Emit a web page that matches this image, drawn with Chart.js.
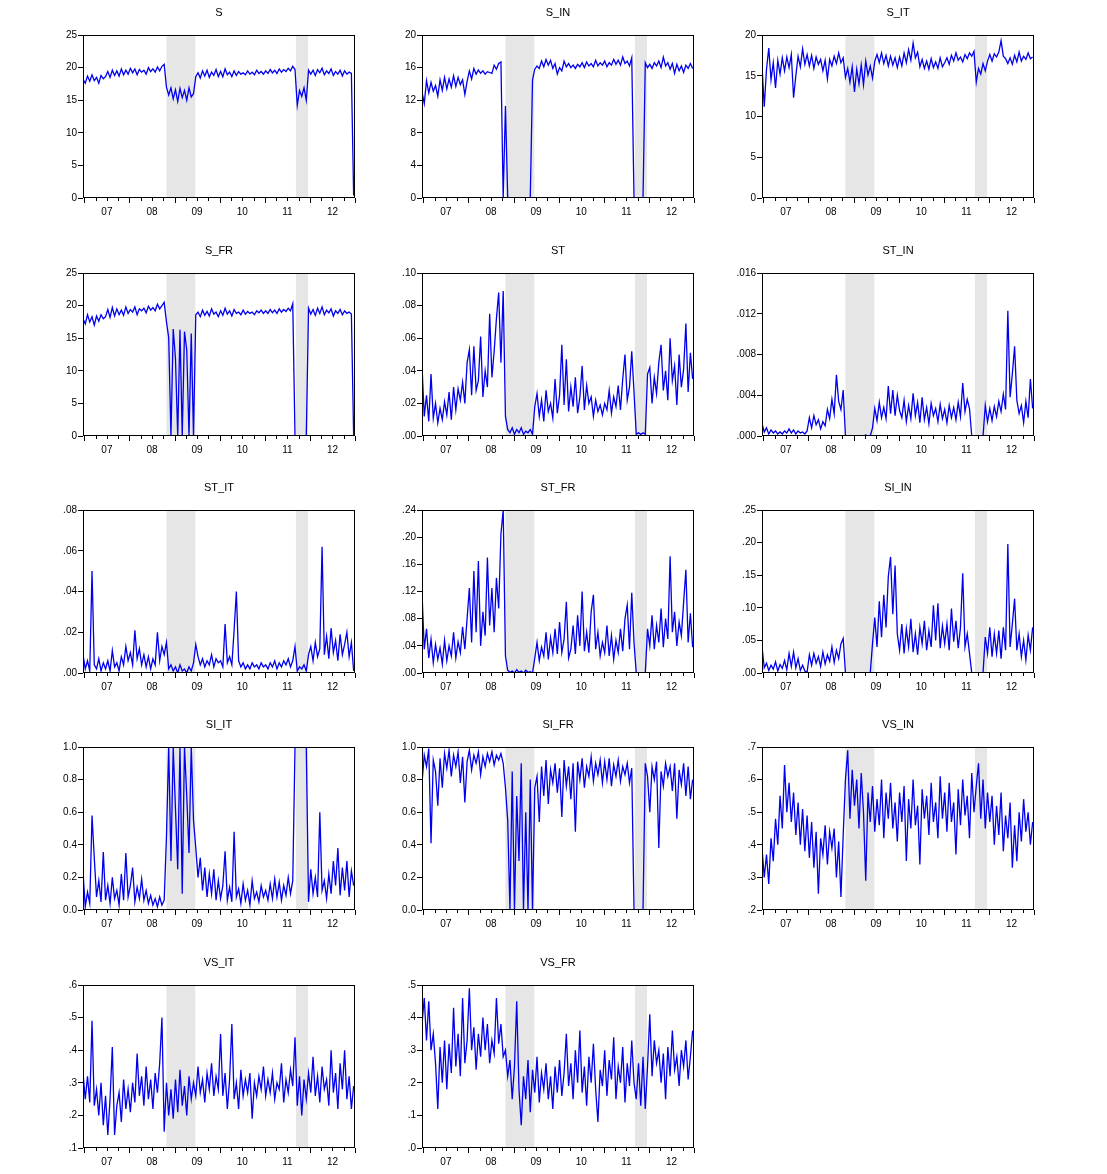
<!DOCTYPE html>
<html>
<head>
<meta charset="utf-8">
<script src="https://cdn.jsdelivr.net/npm/chart.js@4.4.1/dist/chart.umd.min.js"></script>
<style>
body { margin: 0; background: #fff; width: 1107px; height: 1174px; overflow: hidden; position: relative; }
canvas { position: absolute; }
</style>
</head>
<body>
<script>
// one value every 0.05 year, first one in Dec 2006
const START = 2006.97, STEP = 0.05, N = 121;
const dates = Array.from({length: N}, (_, i) => +(START + i * STEP).toFixed(2));
const yearLabels = ['07', '08', '09', '10', '11', '12'];
const recessions = [[2008.82, 2009.46], [2011.69, 2011.96]];

// each series: first point, then one line per year 2007..2012
const S = [18.2,
  17.6, 18.7, 17.9, 18.9, 18.0, 18.5, 17.6, 18.8, 18.3, 18.6, 19.4, 18.5, 19.6, 18.8, 19.5, 18.7, 19.8, 18.9, 19.6, 19.0,
  19.9, 19.2, 19.8, 18.9, 19.7, 19.3, 19.6, 19.0, 20.0, 19.4, 19.8, 19.3, 20.1, 19.5, 20.2, 20.5, 17.0, 15.8, 16.9, 15.2,
  16.6, 14.8, 16.8, 15.4, 16.5, 15.0, 16.9, 15.5, 16.0, 18.6, 19.2, 18.4, 19.5, 18.7, 19.6, 18.5, 19.3, 18.8, 19.7, 18.6,
  19.4, 18.6, 19.8, 18.9, 19.3, 18.6, 19.5, 18.8, 19.4, 19.0, 19.2, 18.9, 19.5, 19.0, 19.3, 18.9, 19.6, 19.1, 19.4, 19.0,
  19.5, 19.1, 19.7, 19.2, 19.6, 19.1, 19.8, 19.3, 19.7, 19.4, 19.9, 19.5, 20.2, 19.7, 14.2, 16.5, 15.6, 16.9, 15.0, 19.6,
  19.0, 19.6, 18.8, 19.7, 19.2, 19.9, 18.9, 19.5, 19.1, 19.8, 18.8, 19.4, 19.0, 19.6, 18.7, 19.5, 19.0, 19.3, 19.1, 0.4];

const S_IN = [13.0,
  11.6, 14.4, 12.9, 14.2, 13.1, 13.8, 12.5, 14.5, 13.2, 14.8, 13.4, 14.6, 13.6, 15.0, 13.7, 14.8, 13.9, 14.5, 12.7, 14.3,
  15.6, 14.6, 15.9, 15.2, 15.7, 15.3, 15.6, 15.2, 15.5, 15.4, 15.3, 16.3, 15.8, 16.5, 16.7, 0, 11.3, 0, 0, 0,
  0, 0, 0, 0, 0, 0, 0, 0, 14.5, 15.8, 16.2, 15.9, 16.8, 16.1, 17.0, 16.3, 16.9, 15.9, 16.5, 15.2,
  16.0, 15.6, 16.8, 16.1, 16.5, 16.0, 16.3, 15.9, 16.4, 16.1, 16.6, 16.0, 16.7, 16.2, 16.5, 16.1, 16.9, 16.2, 16.6, 16.3,
  16.8, 16.1, 16.6, 16.3, 17.0, 16.4, 16.9, 16.3, 17.3, 16.5, 16.8, 16.2, 17.2, 0, 0, 0, 0, 0, 16.6, 16.0,
  16.4, 15.9, 16.6, 16.2, 16.8, 16.0, 17.3, 16.2, 16.6, 15.8, 16.5, 15.3, 16.4, 15.6, 16.2, 15.4, 16.3, 15.9, 16.5, 15.9];

const S_IT = [16.2,
  11.2, 15.8, 18.4, 14.5, 16.6, 13.5, 16.9, 15.2, 17.2, 15.6, 17.3, 16.0, 17.6, 12.3, 15.0, 17.4, 16.1, 18.3, 16.4, 17.6,
  16.2, 17.5, 15.9, 17.3, 16.4, 17.0, 15.6, 16.9, 14.6, 17.0, 16.2, 17.4, 16.5, 17.8, 16.6, 17.2, 14.8, 15.9, 14.2, 16.1,
  13.0, 15.8, 14.0, 16.3, 13.9, 16.8, 15.1, 16.2, 14.7, 16.8, 17.6, 16.6, 17.8, 16.5, 17.5, 16.2, 17.4, 16.3, 17.2, 16.0,
  17.3, 16.2, 17.8, 16.6, 18.2, 16.9, 19.0, 17.2, 17.9, 16.1, 17.0, 15.9, 16.8, 15.8, 17.1, 16.0, 16.7, 15.9, 17.2, 16.1,
  16.6, 17.2, 16.4, 17.5, 16.8, 17.8, 16.9, 17.3, 16.7, 17.6, 17.1, 17.8, 17.4, 18.0, 14.2, 15.9, 15.2, 16.5, 15.6, 16.8,
  17.6, 16.8, 17.7, 17.3, 17.9, 19.3, 17.4, 17.1, 16.5, 17.2, 16.4, 17.5, 16.7, 17.9, 16.8, 17.4, 17.0, 17.8, 17.1, 17.3];

const S_FR = [18.0,
  17.2, 18.6, 17.5, 18.3, 17.0, 18.4, 17.6, 18.6, 18.0, 18.3, 19.4, 18.2, 19.7, 18.4, 19.5, 18.6, 19.3, 18.5, 19.8, 18.8,
  19.4, 19.0, 19.8, 18.6, 19.5, 19.2, 19.6, 18.9, 19.9, 19.3, 19.7, 19.2, 20.2, 19.5, 20.0, 20.5, 17.5, 15.1, 0, 16.4,
  11.9, 0, 16.3, 0, 16.0, 13.2, 0, 15.7, 0, 18.6, 19.0, 18.3, 19.3, 18.5, 19.1, 18.4, 19.5, 18.7, 19.0, 18.3,
  19.2, 18.5, 19.6, 18.7, 19.2, 18.4, 19.4, 18.8, 19.0, 18.6, 19.3, 18.7, 19.1, 18.8, 19.0, 18.6, 19.2, 18.9, 19.3, 18.8,
  19.2, 18.8, 19.4, 18.9, 19.3, 18.8, 19.5, 19.0, 19.4, 19.1, 19.6, 19.2, 20.3, 0, 0, 0, 0, 0, 0, 19.6,
  18.7, 19.4, 18.5, 19.6, 18.8, 19.8, 18.6, 19.3, 18.9, 19.5, 18.4, 19.2, 18.8, 19.4, 18.6, 19.2, 18.8, 19.0, 18.7, 0];

const ST = [0.043,
  0.012, 0.025, 0.009, 0.038, 0.011, 0.020, 0.008, 0.017, 0.010, 0.021, 0.013, 0.027, 0.010, 0.030, 0.016, 0.029, 0.022, 0.033, 0.020, 0.045,
  0.053, 0.025, 0.055, 0.028, 0.034, 0.061, 0.024, 0.040, 0.030, 0.075, 0.036, 0.052, 0.072, 0.088, 0.045, 0.089, 0.012, 0.004, 0.002, 0.005,
  0.001, 0.004, 0.002, 0.005, 0.001, 0.003, 0.002, 0.004, 0.001, 0.018, 0.026, 0.012, 0.022, 0.009, 0.028, 0.015, 0.020, 0.011, 0.035, 0.014,
  0.025, 0.056, 0.019, 0.047, 0.015, 0.030, 0.018, 0.036, 0.014, 0.024, 0.043, 0.016, 0.031, 0.020, 0.024, 0.012, 0.022, 0.015, 0.019, 0.013,
  0.020, 0.016, 0.028, 0.014, 0.024, 0.018, 0.031, 0.016, 0.035, 0.050, 0.022, 0.030, 0.052, 0.027, 0.001, 0.002, 0.001, 0.002, 0.001, 0.038,
  0.042, 0.020, 0.036, 0.026, 0.045, 0.056, 0.028, 0.040, 0.022, 0.060, 0.034, 0.043, 0.019, 0.050, 0.030, 0.041, 0.069, 0.027, 0.051, 0.035];

const ST_IN = [0.0012,
  0.0004, 0.0008, 0.0002, 0.0006, 0.0003, 0.0005, 0.0002, 0.0004, 0.0002, 0.0005, 0.0003, 0.0007, 0.0003, 0.0006, 0.0002, 0.0005, 0.0003, 0.0004, 0.0002, 0.0005,
  0.0018, 0.0008, 0.0020, 0.0011, 0.0016, 0.0007, 0.0014, 0.0010, 0.0026, 0.0017, 0.0036, 0.0022, 0.0060, 0.0034, 0.0026, 0.0045, 0, 0, 0, 0,
  0, 0, 0, 0, 0, 0.0001, 0, 0, 0.0008, 0.0027, 0.0015, 0.0033, 0.0018, 0.0028, 0.0017, 0.0049, 0.0022, 0.0045, 0.0020, 0.0040,
  0.0025, 0.0018, 0.0035, 0.0014, 0.0030, 0.0017, 0.0042, 0.0020, 0.0033, 0.0013, 0.0038, 0.0016, 0.0028, 0.0012, 0.0032, 0.0020, 0.0027, 0.0014, 0.0031, 0.0017,
  0.0026, 0.0013, 0.0030, 0.0018, 0.0028, 0.0016, 0.0033, 0.0019, 0.0052, 0.0024, 0.0036, 0.0027, 0, 0, 0, 0, 0, 0, 0.0030, 0.0014,
  0.0027, 0.0015, 0.0029, 0.0019, 0.0034, 0.0024, 0.0041, 0.0026, 0.0123, 0.0038, 0.0061, 0.0088, 0.0035, 0.0022, 0.0030, 0.0013, 0.0034, 0.0018, 0.0056, 0.0027];

const ST_IT = [0.009,
  0.002, 0.006, 0.001, 0.050, 0.004, 0.002, 0.007, 0.001, 0.005, 0.002, 0.006, 0.001, 0.011, 0.003, 0.005, 0.001, 0.008, 0.004, 0.013, 0.006,
  0.010, 0.004, 0.021, 0.007, 0.012, 0.004, 0.009, 0.003, 0.008, 0.002, 0.007, 0.004, 0.020, 0.006, 0.013, 0.009, 0.015, 0.002, 0.004, 0.001,
  0.003, 0.000, 0.004, 0.001, 0.002, 0.000, 0.003, 0.001, 0.005, 0.014, 0.008, 0.004, 0.007, 0.003, 0.006, 0.004, 0.009, 0.003, 0.007, 0.005,
  0.006, 0.003, 0.024, 0.005, 0.008, 0.004, 0.021, 0.040, 0.006, 0.003, 0.005, 0.002, 0.004, 0.002, 0.005, 0.003, 0.004, 0.002, 0.005, 0.003,
  0.004, 0.002, 0.005, 0.003, 0.006, 0.002, 0.005, 0.003, 0.006, 0.004, 0.007, 0.003, 0.006, 0.013, 0.001, 0.003, 0.002, 0.004, 0.001, 0.009,
  0.013, 0.006, 0.015, 0.008, 0.012, 0.062, 0.009, 0.018, 0.007, 0.022, 0.010, 0.016, 0.006, 0.019, 0.009, 0.014, 0.020, 0.008, 0.015, 0.001];

const ST_FR = [0.118,
  0.035, 0.065, 0.022, 0.050, 0.015, 0.042, 0.020, 0.037, 0.013, 0.048, 0.018, 0.040, 0.025, 0.060, 0.022, 0.046, 0.030, 0.068, 0.035, 0.080,
  0.125, 0.045, 0.150, 0.060, 0.165, 0.040, 0.090, 0.055, 0.170, 0.070, 0.125, 0.060, 0.140, 0.095, 0.205, 0.240, 0.025, 0.004, 0.001, 0.003,
  0.000, 0.005, 0.001, 0.003, 0.000, 0.004, 0.001, 0.002, 0.000, 0.022, 0.045, 0.018, 0.038, 0.025, 0.060, 0.020, 0.052, 0.030, 0.065, 0.028,
  0.075, 0.030, 0.050, 0.105, 0.022, 0.035, 0.070, 0.028, 0.085, 0.040, 0.120, 0.032, 0.060, 0.030, 0.090, 0.115, 0.035, 0.060, 0.025, 0.045,
  0.030, 0.070, 0.025, 0.055, 0.020, 0.048, 0.030, 0.065, 0.032, 0.080, 0.100, 0.035, 0.118, 0.045, 0, 0, 0, 0, 0, 0.065,
  0.040, 0.085, 0.035, 0.070, 0.045, 0.095, 0.038, 0.080, 0.050, 0.172, 0.060, 0.090, 0.040, 0.075, 0.055, 0.104, 0.152, 0.045, 0.088, 0.038];

const SI_IN = [0.040,
  0.008, 0.015, 0.004, 0.012, 0.006, 0.017, 0.003, 0.013, 0.007, 0.019, 0.005, 0.030, 0.010, 0.032, 0.008, 0.022, 0.004, 0.012, 0.003, 0.001,
  0.028, 0.012, 0.030, 0.015, 0.025, 0.010, 0.032, 0.014, 0.028, 0.018, 0.040, 0.016, 0.035, 0.022, 0.045, 0.053, 0, 0, 0, 0,
  0, 0, 0, 0, 0, 0, 0, 0, 0.045, 0.085, 0.040, 0.110, 0.055, 0.120, 0.070, 0.148, 0.178, 0.090, 0.165, 0.060,
  0.035, 0.075, 0.030, 0.068, 0.040, 0.083, 0.032, 0.060, 0.028, 0.070, 0.045, 0.080, 0.035, 0.065, 0.040, 0.104, 0.050, 0.107, 0.038, 0.072,
  0.045, 0.075, 0.035, 0.099, 0.048, 0.080, 0.038, 0.070, 0.153, 0.040, 0.060, 0.030, 0, 0, 0, 0, 0, 0, 0.055, 0.030,
  0.070, 0.025, 0.060, 0.030, 0.065, 0.022, 0.070, 0.035, 0.198, 0.040, 0.075, 0.114, 0.035, 0.060, 0.025, 0.050, 0.020, 0.058, 0.035, 0.070];

const SI_IT = [0.230,
  0.020, 0.110, 0.040, 0.580, 0.320, 0.080, 0.180, 0.050, 0.355, 0.060, 0.150, 0.040, 0.200, 0.070, 0.120, 0.030, 0.220, 0.060, 0.350, 0.080,
  0.150, 0.260, 0.050, 0.140, 0.070, 0.190, 0.060, 0.120, 0.040, 0.090, 0.030, 0.070, 0.020, 0.080, 0.030, 0.060, 0.450, 1.000, 0.300, 1.000,
  0.620, 0.250, 1.000, 0.100, 1.000, 0.700, 0.350, 1.000, 0.550, 0.380, 0.200, 0.320, 0.120, 0.260, 0.080, 0.220, 0.100, 0.250, 0.060, 0.180,
  0.070, 0.150, 0.360, 0.060, 0.140, 0.050, 0.480, 0.080, 0.130, 0.040, 0.160, 0.060, 0.120, 0.030, 0.180, 0.070, 0.110, 0.050, 0.150, 0.080,
  0.120, 0.060, 0.160, 0.070, 0.190, 0.080, 0.170, 0.060, 0.150, 0.090, 0.200, 0.100, 0.180, 1.000, 1.000, 1.000, 1.000, 1.000, 1.000, 0.050,
  0.250, 0.100, 0.200, 0.080, 0.600, 0.120, 0.180, 0.070, 0.220, 0.100, 0.300, 0.150, 0.380, 0.090, 0.260, 0.120, 0.300, 0.080, 0.240, 0.150];

const SI_FR = [0.780,
  0.950, 0.880, 0.990, 0.410, 0.920, 0.850, 0.640, 0.930, 0.750, 0.960, 0.870, 0.980, 0.820, 0.950, 0.880, 0.970, 0.780, 0.940, 0.660, 0.910,
  0.980, 0.860, 0.950, 0.900, 0.970, 0.830, 0.940, 0.880, 0.960, 0.910, 0.970, 0.890, 0.950, 0.920, 0.960, 0.900, 0.750, 0.550, 0.000, 0.850,
  0.000, 0.700, 0.300, 0.900, 0.000, 0.600, 0.000, 0.800, 0.000, 0.750, 0.820, 0.540, 0.880, 0.700, 0.920, 0.650, 0.860, 0.780, 0.900, 0.720,
  0.870, 0.570, 0.920, 0.760, 0.880, 0.680, 0.900, 0.480, 0.910, 0.800, 0.930, 0.750, 0.880, 0.820, 0.940, 0.790, 0.900, 0.830, 0.920, 0.780,
  0.910, 0.800, 0.930, 0.760, 0.890, 0.820, 0.920, 0.790, 0.880, 0.830, 0.900, 0.780, 0.870, 0, 0, 0, 0, 0, 0.900, 0.820,
  0.600, 0.880, 0.800, 0.910, 0.380, 0.850, 0.760, 0.900, 0.820, 0.880, 0.730, 0.900, 0.560, 0.860, 0.770, 0.900, 0.700, 0.880, 0.680, 0.800];

const VS_IN = [0.390,
  0.300, 0.370, 0.280, 0.420, 0.350, 0.480, 0.400, 0.550, 0.450, 0.645, 0.500, 0.590, 0.470, 0.560, 0.430, 0.530, 0.400, 0.510, 0.380, 0.490,
  0.360, 0.470, 0.330, 0.440, 0.250, 0.420, 0.370, 0.460, 0.340, 0.440, 0.390, 0.450, 0.300, 0.410, 0.240, 0.430, 0.600, 0.690, 0.480, 0.630,
  0.520, 0.600, 0.450, 0.620, 0.500, 0.290, 0.560, 0.470, 0.580, 0.440, 0.540, 0.460, 0.600, 0.420, 0.560, 0.480, 0.590, 0.450, 0.530, 0.410,
  0.560, 0.470, 0.580, 0.350, 0.540, 0.450, 0.600, 0.460, 0.520, 0.340, 0.570, 0.480, 0.550, 0.430, 0.590, 0.470, 0.530, 0.420, 0.610, 0.480,
  0.560, 0.440, 0.590, 0.470, 0.530, 0.370, 0.570, 0.460, 0.600, 0.490, 0.550, 0.420, 0.620, 0.500, 0.580, 0.650, 0.480, 0.600, 0.450, 0.560,
  0.470, 0.550, 0.400, 0.520, 0.430, 0.560, 0.380, 0.490, 0.420, 0.530, 0.330, 0.460, 0.350, 0.500, 0.410, 0.540, 0.440, 0.500, 0.400, 0.470];

const VS_IT = [0.330,
  0.250, 0.320, 0.240, 0.490, 0.230, 0.280, 0.200, 0.300, 0.170, 0.260, 0.140, 0.250, 0.410, 0.140, 0.230, 0.270, 0.180, 0.310, 0.220, 0.280,
  0.210, 0.300, 0.240, 0.390, 0.260, 0.320, 0.230, 0.350, 0.250, 0.310, 0.220, 0.330, 0.270, 0.360, 0.500, 0.150, 0.300, 0.200, 0.280, 0.190,
  0.310, 0.210, 0.340, 0.230, 0.290, 0.200, 0.320, 0.250, 0.300, 0.260, 0.350, 0.270, 0.310, 0.240, 0.330, 0.280, 0.360, 0.260, 0.320, 0.280,
  0.450, 0.260, 0.330, 0.220, 0.310, 0.480, 0.250, 0.300, 0.220, 0.340, 0.260, 0.310, 0.270, 0.330, 0.190, 0.300, 0.260, 0.320, 0.280, 0.350,
  0.260, 0.310, 0.270, 0.330, 0.250, 0.300, 0.280, 0.360, 0.240, 0.310, 0.270, 0.340, 0.290, 0.440, 0.230, 0.320, 0.200, 0.310, 0.250, 0.330,
  0.270, 0.380, 0.260, 0.320, 0.240, 0.350, 0.280, 0.310, 0.230, 0.400, 0.270, 0.330, 0.220, 0.360, 0.280, 0.400, 0.250, 0.320, 0.220, 0.290];

const VS_FR = [0.380,
  0.460, 0.330, 0.450, 0.300, 0.350, 0.260, 0.120, 0.310, 0.200, 0.330, 0.180, 0.320, 0.230, 0.430, 0.250, 0.350, 0.220, 0.460, 0.260, 0.330,
  0.490, 0.300, 0.370, 0.240, 0.350, 0.280, 0.400, 0.300, 0.380, 0.260, 0.330, 0.290, 0.460, 0.320, 0.380, 0.280, 0.300, 0.220, 0.270, 0.150,
  0.250, 0.450, 0.180, 0.070, 0.220, 0.150, 0.270, 0.110, 0.240, 0.170, 0.280, 0.140, 0.230, 0.180, 0.260, 0.150, 0.220, 0.120, 0.250, 0.170,
  0.270, 0.160, 0.230, 0.350, 0.190, 0.260, 0.150, 0.300, 0.200, 0.360, 0.170, 0.250, 0.130, 0.280, 0.200, 0.320, 0.180, 0.080, 0.240, 0.190,
  0.300, 0.160, 0.270, 0.210, 0.340, 0.150, 0.250, 0.200, 0.310, 0.140, 0.260, 0.190, 0.330, 0.200, 0.150, 0.260, 0.130, 0.280, 0.120, 0.250,
  0.410, 0.220, 0.330, 0.260, 0.300, 0.200, 0.290, 0.150, 0.310, 0.220, 0.360, 0.240, 0.280, 0.190, 0.300, 0.250, 0.330, 0.210, 0.280, 0.360];

// panel list: title, series, y axis min/max/step, decimals, leading zero
const panels = [
  ['S', S, 0, 25, 5, 0, true],
  ['S_IN', S_IN, 0, 20, 4, 0, true],
  ['S_IT', S_IT, 0, 20, 5, 0, true],
  ['S_FR', S_FR, 0, 25, 5, 0, true],
  ['ST', ST, 0, 0.10, 0.02, 2, false],
  ['ST_IN', ST_IN, 0, 0.016, 0.004, 3, false],
  ['ST_IT', ST_IT, 0, 0.08, 0.02, 2, false],
  ['ST_FR', ST_FR, 0, 0.24, 0.04, 2, false],
  ['SI_IN', SI_IN, 0, 0.25, 0.05, 2, false],
  ['SI_IT', SI_IT, 0, 1, 0.2, 1, true],
  ['SI_FR', SI_FR, 0, 1, 0.2, 1, true],
  ['VS_IN', VS_IN, 0.2, 0.7, 0.1, 1, false],
  ['VS_IT', VS_IT, 0.1, 0.6, 0.1, 1, false],
  ['VS_FR', VS_FR, 0, 0.5, 0.1, 1, false]
];

const colLeft = [83, 422, 762];
const rowTop = [35, 273, 510, 747, 985];
const PW = 272, PH = 163, PADL = 45, PADT = 32, PADB = 30, PADR = 8;
const FONT = 'Arial, "Liberation Sans", sans-serif';

function fmt(v, dec, lead) {
  let s = v.toFixed(dec);
  if (!lead) s = s.replace(/^0\./, '.');
  return s;
}

// recession shading, box frame and quarter tick marks
const eviews = {
  id: 'eviews',
  beforeDatasetsDraw(chart) {
    const {ctx, chartArea: a, scales: {x}} = chart;
    ctx.save();
    ctx.fillStyle = '#e6e6e6';
    recessions.forEach(([s, e]) => {
      const x0 = x.getPixelForValue(s), x1 = x.getPixelForValue(e);
      ctx.fillRect(x0, a.top, x1 - x0, a.bottom - a.top);
    });
    ctx.restore();
  },
  afterDraw(chart) {
    const {ctx, chartArea: a, scales: {x}} = chart;
    ctx.save();
    ctx.strokeStyle = '#000';
    ctx.lineWidth = 1;
    ctx.strokeRect(a.left + 0.5, a.top + 0.5, a.right - a.left - 1, a.bottom - a.top - 1);
    ctx.beginPath();
    for (let k = 0; k <= 24; k++) {
      const px = x.getPixelForValue(2007 + k / 4);
      if (px < a.left || px > a.right) continue;
      const len = k % 4 === 0 ? 5 : 3;
      const xx = Math.round(px) + 0.5;
      ctx.moveTo(xx, a.bottom);
      ctx.lineTo(xx, a.bottom + len);
    }
    ctx.stroke();
    ctx.restore();
  }
};

panels.forEach(([name, values, ymin, ymax, ystep, dec, lead], n) => {
  const col = n % 3, row = Math.floor(n / 3);
  const cv = document.createElement('canvas');
  cv.width = PADL + PW + PADR;
  cv.height = PADT + PH + PADB;
  cv.style.left = (colLeft[col] - PADL) + 'px';
  cv.style.top = (rowTop[row] - PADT) + 'px';
  document.body.appendChild(cv);

  new Chart(cv, {
    type: 'line',
    data: {
      datasets: [{
        data: values.map((v, i) => ({x: dates[i], y: v})),
        borderColor: '#0000ee',
        borderWidth: 1.3,
        pointRadius: 0,
        tension: 0,
        fill: false
      }]
    },
    options: {
      responsive: false,
      animation: false,
      devicePixelRatio: 1,
      layout: {padding: {left: 0, right: PADR, top: 0, bottom: 0}},
      plugins: {
        legend: {display: false},
        tooltip: {enabled: false},
        title: {
          display: true,
          text: name,
          fullSize: false,
          color: '#000',
          font: {family: FONT, size: 11, weight: 'normal', lineHeight: 1},
          padding: {top: 4, bottom: 17}
        }
      },
      scales: {
        x: {
          type: 'linear',
          min: START,
          max: 2013.0,
          afterFit: (s) => { s.height = PADB; },
          afterBuildTicks: (s) => { s.ticks = yearLabels.map((_, k) => ({value: 2007.5 + k})); },
          grid: {display: false, drawTicks: true, tickLength: 5},
          border: {display: false},
          ticks: {
            autoSkip: false,
            maxRotation: 0,
            padding: 3,
            color: '#000',
            font: {family: FONT, size: 10},
            callback: (v) => yearLabels[Math.round(v - 2007.5)]
          }
        },
        y: {
          min: ymin,
          max: ymax,
          afterFit: (s) => { s.width = PADL; },
          grid: {drawOnChartArea: false, drawTicks: true, tickLength: 5, color: '#000'},
          border: {display: false},
          ticks: {
            stepSize: ystep,
            padding: 1,
            color: '#000',
            font: {family: FONT, size: 10},
            callback: (v) => fmt(v, dec, lead)
          }
        }
      }
    },
    plugins: [eviews]
  });
});
</script>
</body>
</html>
